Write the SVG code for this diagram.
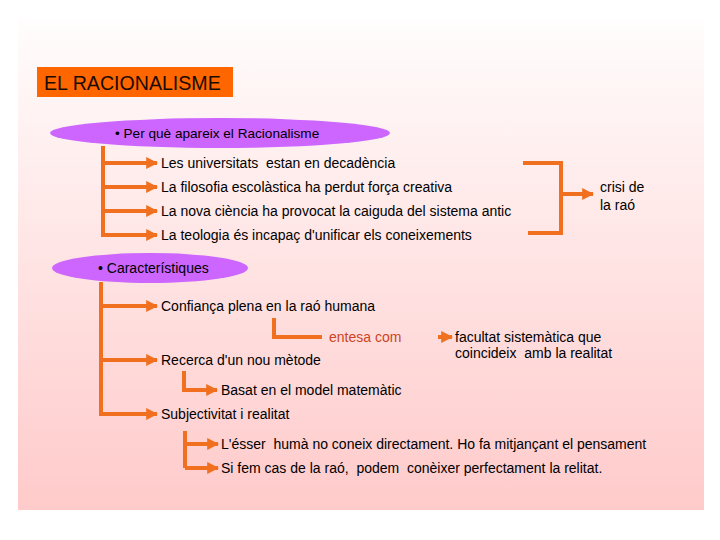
<svg xmlns="http://www.w3.org/2000/svg" width="720" height="540" viewBox="0 0 720 540">
<defs>
<linearGradient id="bg" x1="0" y1="0" x2="0" y2="1">
<stop offset="0" stop-color="#fffdfd"/>
<stop offset="1" stop-color="#ffcaca"/>
</linearGradient>
<marker id="ah" viewBox="0 0 10 10" refX="9" refY="5" markerWidth="3" markerHeight="3" orient="auto" markerUnits="strokeWidth">
<path d="M0,0 L10,5 L0,10 z" fill="#f07020"/>
</marker>
<style>
.t{font-family:"Liberation Sans",Arial,sans-serif;font-size:14px;fill:#000;white-space:pre}
.c{stroke:#f07020;stroke-width:4;fill:none}
.a{stroke:#f07020;stroke-width:4;fill:none;marker-end:url(#ah)}
.el{fill:#cc66ff}
</style>
</defs>
<rect x="0" y="0" width="720" height="540" fill="#ffffff"/>
<rect x="18" y="18" width="686" height="492" fill="url(#bg)"/>
<g id="title">
<rect x="37" y="67" width="196" height="30" fill="#ff6600"/>
<text x="44" y="90" style="font-family:'Liberation Sans',Arial,sans-serif;font-size:19.6px;fill:#1a0a00">EL RACIONALISME</text>
</g>
<g id="ellipse1">
<ellipse cx="220" cy="133" rx="170" ry="15" class="el"/>
<text x="115" y="138" class="t" style="font-size:13.6px">• Per què apareix el Racionalisme</text>
</g>
<g id="ellipse2">
<ellipse cx="150" cy="268" rx="98" ry="15" class="el"/>
<text x="98" y="273" class="t">• Característiques</text>
</g>
<g id="connectors">
<path class="c" d="M103,146 V237"/>
<path class="a" d="M103,163 H157"/>
<path class="a" d="M103,187 H157"/>
<path class="a" d="M103,211 H157"/>
<path class="a" d="M103,235 H157"/>
<path class="c" d="M523,163 H561 V233 H528"/>
<path class="a" d="M561,194 H593"/>
<path class="c" d="M101,282 V416"/>
<path class="a" d="M101,306 H157"/>
<path class="a" d="M101,360 H157"/>
<path class="a" d="M101,414 H157"/>
<path class="c" d="M274,318 V337 H322"/>
<path class="a" d="M438,337 H452"/>
<path class="c" d="M184,371 V390 H200"/>
<path class="a" d="M198,390 H217"/>
<path class="c" d="M185,431 V468"/>
<path class="a" d="M185,444 H218"/>
<path class="a" d="M185,468 H218"/>
</g>
<g id="n1"><text x="161" y="168" class="t">Les universitats  estan en decadència</text></g>
<g id="n2"><text x="161" y="192" class="t">La filosofia escolàstica ha perdut força creativa</text></g>
<g id="n3"><text x="161" y="216" class="t">La nova ciència ha provocat la caiguda del sistema antic</text></g>
<g id="n4"><text x="161" y="240" class="t">La teologia és incapaç d'unificar els coneixements</text></g>
<g id="crisi"><text x="600" y="192" class="t">crisi de</text><text x="600" y="210" class="t">la raó</text></g>
<g id="c1"><text x="161" y="311" class="t">Confiança plena en la raó humana</text></g>
<g id="entesa"><text x="329" y="342" class="t" style="fill:#cc4422">entesa com</text></g>
<g id="facultat"><text x="455" y="342" class="t">facultat sistemàtica que</text><text x="455" y="358" class="t">coincideix  amb la realitat</text></g>
<g id="c2"><text x="161" y="365" class="t">Recerca d'un nou mètode</text></g>
<g id="basat"><text x="221" y="395" class="t">Basat en el model matemàtic</text></g>
<g id="c3"><text x="161" y="419" class="t">Subjectivitat i realitat</text></g>
<g id="s1"><text x="221" y="449" class="t">L'ésser  humà no coneix directament. Ho fa mitjançant el pensament</text></g>
<g id="s2"><text x="221" y="473" class="t">Si fem cas de la raó,  podem  conèixer perfectament la relitat.</text></g>
</svg>
